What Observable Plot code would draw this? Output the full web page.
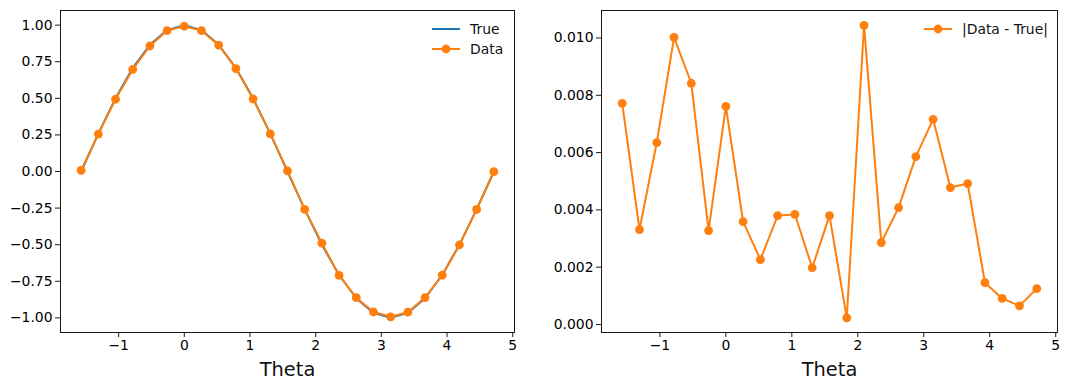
<!DOCTYPE html>
<html>
<head>
<meta charset="utf-8">
<script src="https://cdn.jsdelivr.net/npm/d3@7"></script>
<script src="https://cdn.jsdelivr.net/npm/@observablehq/plot@0.6"></script>
<style>
  body { margin: 0; background: white; font-family: "DejaVu Sans", sans-serif; }
  #row { display: flex; width: 1089px; height: 390px; }
  .panel { position: relative; }
  .legend { position: absolute; top: 0; left: 0; pointer-events: none; }
</style>
</head>
<body>
<div id="row">
  <div class="panel" id="left"></div>
  <div class="panel" id="right"></div>
</div>
<script>
const theta = [-1.5708, -1.3090, -1.0472, -0.7854, -0.5236, -0.2618, 0, 0.2618, 0.5236, 0.7854, 1.0472, 1.3090, 1.5708, 1.8326, 2.0944, 2.3562, 2.6180, 2.8798, 3.1416, 3.4034, 3.6652, 3.9270, 4.1888, 4.4506, 4.7124];
const trueVals = [0, 0.2588, 0.5, 0.7071, 0.8660, 0.9659, 1, 0.9659, 0.8660, 0.7071, 0.5, 0.2588, 0, -0.2588, -0.5, -0.7071, -0.8660, -0.9659, -1, -0.9659, -0.8660, -0.7071, -0.5, -0.2588, 0];
const dataVals = [0.0077, 0.2555, 0.4937, 0.6971, 0.8576, 0.9626, 0.9924, 0.9623, 0.8637, 0.7033, 0.4962, 0.2568, 0.0038, -0.2590, -0.4896, -0.7100, -0.8619, -0.9600, -0.9928, -0.9611, -0.8611, -0.7086, -0.5009, -0.2595, -0.0012];
const absDiff = [0.00772, 0.00331, 0.00635, 0.01002, 0.00842, 0.00328, 0.00761, 0.00359, 0.00226, 0.00380, 0.00384, 0.00198, 0.00380, 0.00023, 0.01044, 0.00286, 0.00408, 0.00586, 0.00716, 0.00478, 0.00492, 0.00146, 0.00091, 0.00065, 0.00125];
const xTicks = [-1, 0, 1, 2, 3, 4, 5];
const yTicksLeft = [-1, -0.75, -0.5, -0.25, 0, 0.25, 0.5, 0.75, 1];
const yTicksRight = [0, 0.002, 0.004, 0.006, 0.008, 0.010];

const BLUE = "#1f77b4", ORANGE = "#ff7f0e";
const FONT = "DejaVu Sans, sans-serif";

const trueRows = theta.map((t, i) => ({t, v: trueVals[i]}));
const dataRows = theta.map((t, i) => ({t, v: dataVals[i]}));
const diffRows = theta.map((t, i) => ({t, v: absDiff[i]}));

function commonAxes(yTicks, yFmt) {
  return [
    Plot.frame({stroke: "black", strokeWidth: 0.9}),
    Plot.axisX({ticks: xTicks, tickSize: 5, tickPadding: 3, fontSize: 13.9, label: null, tickFormat: d3.format("d"), stroke: "black", strokeWidth: 0.9, color: "black"}),
    Plot.axisY({ticks: yTicks, tickSize: 5, tickPadding: 3, fontSize: 13.9, label: null, tickFormat: d3.format(yFmt), stroke: "black", strokeWidth: 0.9, color: "black"}),
    Plot.text(["Theta"], {frameAnchor: "bottom", dy: 37, fontSize: 19.4, fill: "#111", lineAnchor: "middle", text: d => d})
  ];
}

const left = Plot.plot({
  width: 545, height: 390,
  marginLeft: 60, marginRight: 31, marginTop: 10, marginBottom: 58,
  style: {fontFamily: FONT, background: "white", overflow: "visible"},
  x: {domain: [-1.885, 5.027]},
  y: {domain: [-1.1, 1.1]},
  marks: [
    ...commonAxes(yTicksLeft, ".2f"),
    Plot.line(trueRows, {x: "t", y: "v", stroke: BLUE, strokeWidth: 2}),
    Plot.line(dataRows, {x: "t", y: "v", stroke: ORANGE, strokeWidth: 2}),
    Plot.dot(dataRows, {x: "t", y: "v", r: 4.4, fill: ORANGE, stroke: "none"})
  ]
});
document.getElementById("left").appendChild(left);

const right = Plot.plot({
  width: 544, height: 390,
  marginLeft: 56, marginRight: 32, marginTop: 10, marginBottom: 58,
  style: {fontFamily: FONT, background: "white", overflow: "visible"},
  x: {domain: [-1.885, 5.027]},
  y: {domain: [-0.00028, 0.01096]},
  marks: [
    ...commonAxes(yTicksRight, ".3f"),
    Plot.line(diffRows, {x: "t", y: "v", stroke: ORANGE, strokeWidth: 2}),
    Plot.dot(diffRows, {x: "t", y: "v", r: 4.4, fill: ORANGE, stroke: "none"})
  ]
});
document.getElementById("right").appendChild(right);

// Legends
function addLegend(container, width, items) {
  const svg = d3.select(container).append("svg")
    .attr("class", "legend").attr("width", width).attr("height", 80)
    .style("font-family", FONT);
  items.forEach(it => {
    const g = svg.append("g");
    g.append("line").attr("x1", it.x0).attr("x2", it.x0 + 28).attr("y1", it.y).attr("y2", it.y)
      .attr("stroke", it.color).attr("stroke-width", 2);
    if (it.marker) g.append("circle").attr("cx", it.x0 + 14).attr("cy", it.y).attr("r", 4.4).attr("fill", it.color);
    g.append("text").attr("x", it.x0 + 38).attr("y", it.y).attr("dy", "0.35em")
      .attr("font-size", 13.9).attr("fill", "#111").text(it.label);
  });
}
addLegend(document.getElementById("left"), 545, [
  {label: "True", color: BLUE, marker: false, x0: 432, y: 29},
  {label: "Data", color: ORANGE, marker: true, x0: 432, y: 49}
]);
addLegend(document.getElementById("right"), 544, [
  {label: "|Data - True|", color: ORANGE, marker: true, x0: 379, y: 29}
]);
</script>
</body>
</html>
